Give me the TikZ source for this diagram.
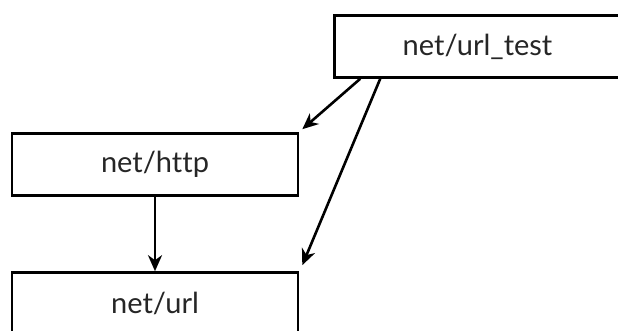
\documentclass[tikz,border=0pt]{standalone}
\usepackage{fontspec}
\setmainfont[Ligatures={NoCommon}]{Lato}
\usetikzlibrary{arrows.meta,calc}
\begin{document}
\begin{tikzpicture}[x=1pt,y=-1pt,
  box/.style={draw=black,line width=2.6pt,fill=white,rectangle,minimum width=286pt,minimum height=62pt,inner sep=0pt,font=\fontsize{29}{34}\selectfont,text=black!85},
  dep/.style={line width=2.6pt,-{Stealth[length=16pt,width=14pt,inset=5pt]}}]
\useasboundingbox (0,0) rectangle (618,331);
\clip (0,0) rectangle (618,331);
\fill[white] (0,0) rectangle (618,331);
\node[box] (ut) at (477.5,46.5) {net/url\_test};
\node[box] (http) at (155,164.5) {net/http};
\node[box] (url) at (155,303.5) {net/url};
\draw[dep] ($(ut.south west)+(27,0)$) -- ($(http.north east)+(3,-3)$);
\draw[dep] ($(ut.south west)+(47,0)$) -- ($(url.north east)+(3,-6)$);
\draw[dep] (http.south) -- (url.north);
\end{tikzpicture}
\end{document}
